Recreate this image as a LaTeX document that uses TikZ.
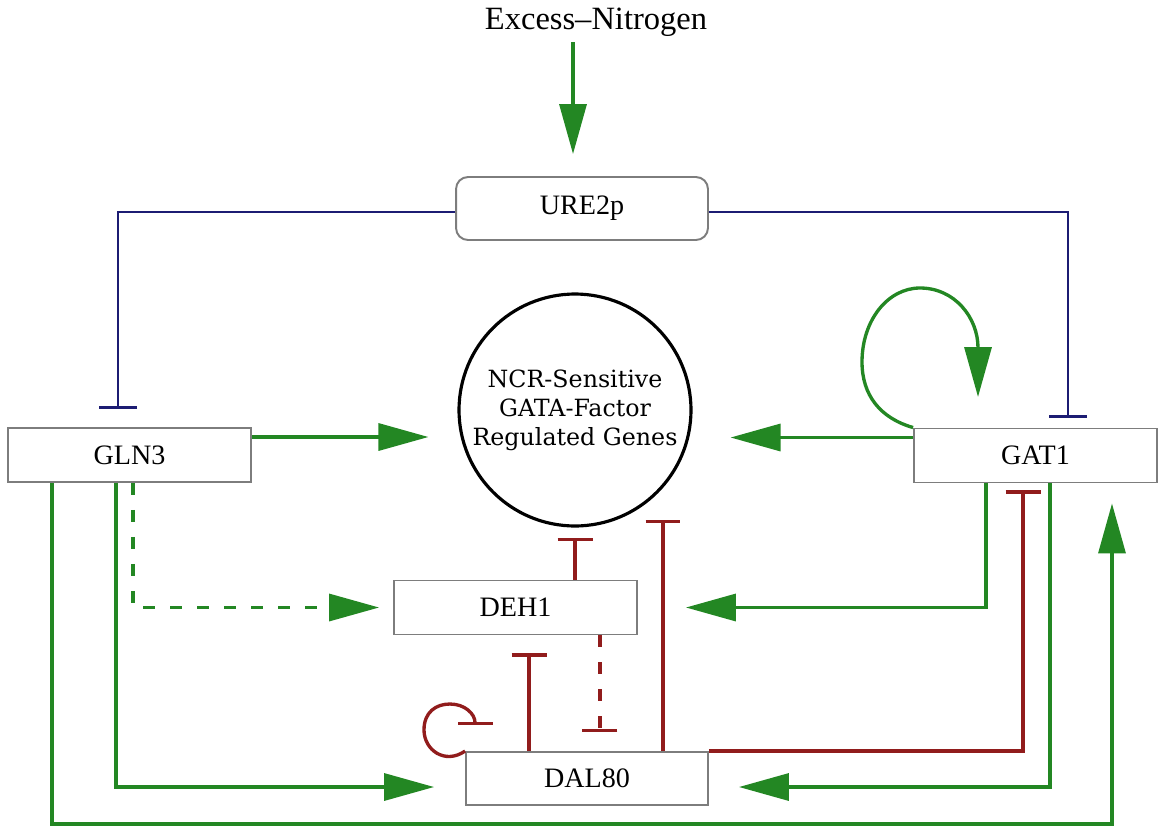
\documentclass[tikz,border=0pt]{standalone}
\usepackage{fontspec}
\setmainfont{Liberation Serif}
\newfontfamily\genefont{DejaVu Serif}
\usepackage{xcolor}
\usetikzlibrary{arrows.meta, calc, positioning}

\definecolor{actgreen}{RGB}{35,135,35}
\definecolor{inhred}{RGB}{145,28,28}
\definecolor{inhblue}{RGB}{28,28,115}
\definecolor{boxgray}{RGB}{125,125,125}

\tikzset{
    gbox/.style={draw=boxgray, line width=1.1pt, fill=white, minimum width=4.86cm,
        minimum height=1.08cm, inner sep=0pt, font=\fontsize{16}{19}\selectfont},
    act/.style={draw=actgreen, line width=1.9pt, -{Triangle[length=1cm, width=0.54cm]}},
    inhr/.style={draw=inhred, line width=1.9pt, -{Bar[width=0.7cm]}},
    inhb/.style={draw=inhblue, line width=1.6pt, -{Bar[width=0.76cm]}},
    dsh/.style={dash pattern=on 0.24cm off 0.3cm},
}

\begin{document}
\begin{tikzpicture}[x=0.02cm, y=-0.02cm]
    \useasboundingbox (0,0) rectangle (1158,825);

    % Nodes
    \node[font=\fontsize{18.5}{22}\selectfont] (nitro) at (596,22) {Excess--Nitrogen};
    \node[gbox, rounded corners=0.24cm, minimum width=5.04cm, minimum height=1.26cm] (URE2p) at (582,208.5) {URE2p};
    \node[draw, circle, line width=1.8pt, minimum size=4.64cm, inner sep=0pt, align=center,
        font=\genefont\fontsize{13.5}{16.5}\selectfont] (genes) at (575,410) {NCR-Sensitive\\GATA-Factor\\Regulated Genes};
    \node[gbox] (GLN3) at (129.5,455) {GLN3};
    \node[gbox] (GAT1) at (1035.5,455.5) {GAT1};
    \node[gbox] (DEH1) at (515.5,607.5) {DEH1};
    \node[gbox, minimum width=4.84cm, minimum height=1.06cm] (DAL80) at (587,778.5) {DAL80};

    % Nitrogen acts on URE2p
    \draw[act, shorten >=0.44cm] ([xshift=-0.18cm]URE2p.north |- nitro.south) -- ([xshift=-0.18cm]URE2p.north);

    % URE2p represses GLN3 and GAT1
    \draw[inhb, shorten >=0.36cm] ([yshift=-0.07cm]URE2p.west) -| ([xshift=-0.23cm]GLN3.north);
    \draw[inhb, shorten >=0.2cm] ([yshift=-0.07cm]URE2p.east) -| ([xshift=0.65cm]GAT1.north);

    % Activation of target genes
    \draw[act, shorten >=0.58cm] ([yshift=0.36cm]GLN3.east) -- ([yshift=0.36cm]GLN3.east -| genes.west);
    \draw[act, shorten >=0.76cm] ([yshift=0.36cm]GAT1.west) -- ([yshift=0.36cm]GAT1.west -| genes.east);

    % GAT1 self-activation
    \coordinate (gatloop) at (978,397);
    \draw[act] (GAT1.north west) .. controls (880,418) and (862,395) .. (862,362)
        .. controls (862,320) and (888,288) .. (920,288)
        .. controls (955,288) and (978,318) .. (gatloop);

    % GAT1 -> DEH1, DAL80
    \draw[act, shorten >=0.96cm] ([xshift=-0.99cm]GAT1.south) |- (DEH1.east);
    \draw[act, shorten >=0.6cm] ([xshift=0.29cm]GAT1.south) |- ([yshift=-0.17cm]DAL80.east);

    % GLN3 -> DEH1, DAL80, GAT1
    \draw[act, dsh, shorten >=0.28cm] ([xshift=0.07cm]GLN3.south) |- (DEH1.west);
    \draw[act, shorten >=0.62cm] ([xshift=-0.27cm]GLN3.south) |- ([yshift=-0.17cm]DAL80.west);
    \draw[act, shorten >=0.4cm] ([xshift=-1.55cm]GLN3.south) -- ++(0,341) -| ([xshift=1.53cm]GAT1.south);

    % Repression by DEH1 and DAL80
    \draw[inhr, shorten >=0.2cm] (DEH1.north -| genes.south) -- (genes.south);
    \draw[inhr, shorten >=0.36cm] ([xshift=-1.16cm]DAL80.north) -- ([xshift=-1.16cm]DAL80.north |- DEH1.south);
    \draw[inhr, dsh, shorten >=0.38cm] ([xshift=1.69cm]DEH1.south) -- ([xshift=1.69cm]DEH1.south |- DAL80.north);
    \draw[inhr] ([xshift=1.52cm]DAL80.north) -- ([xshift=1.52cm, yshift=0.16cm]DAL80.north |- genes.south);
    \draw[inhr, shorten >=0.14cm] (DAL80.north east) -| ([xshift=-0.25cm]GAT1.south);

    % DAL80 self-repression
    \coordinate (dalloop) at (475,725);
    \draw[inhr] (DAL80.north west) .. controls (445,765) and (424,750) .. (424,730)
        .. controls (424,712) and (436,704) .. (450,704)
        .. controls (465,704) and (475,714) .. (dalloop);

\end{tikzpicture}
\end{document}
